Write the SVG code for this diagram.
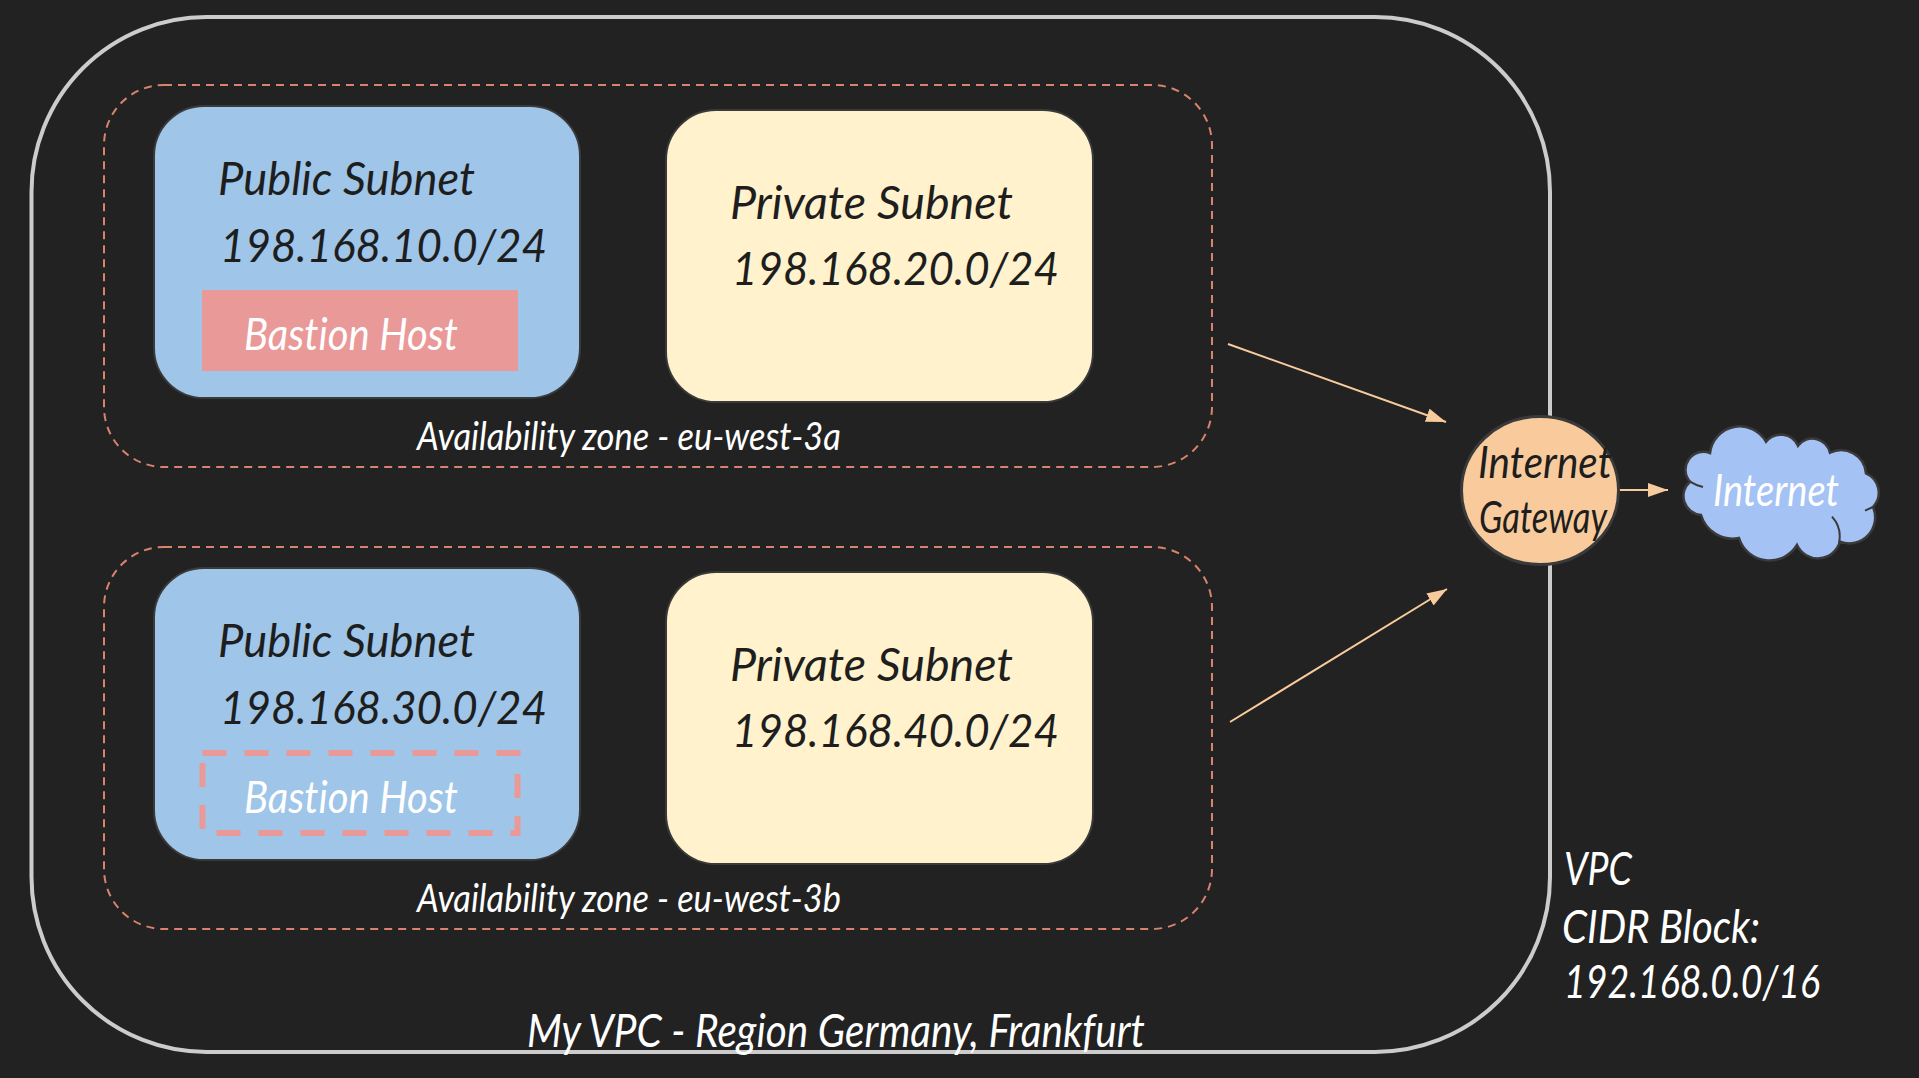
<svg xmlns="http://www.w3.org/2000/svg" width="1919" height="1078" viewBox="0 0 1919 1078">
<style>
text{font-family:"Lato","Noto Sans",sans-serif;font-style:italic;font-weight:400;font-variant-ligatures:none}
.d{fill:#1e1e1e}
.w{fill:#ffffff}
.big{font-size:47px}
.mid{font-size:45px}
.sm{font-size:39px}
.az{fill:none;stroke:#d9826f;stroke-width:2;stroke-dasharray:8 6}
.pub{fill:#9fc5e8;stroke:#3a3a3a;stroke-width:2}
.pri{fill:#fff2cc;stroke:#3a3a3a;stroke-width:2}
.conn{fill:none;stroke:#f8cb9c;stroke-width:2;marker-end:url(#arrow)}
</style>
<defs>
<marker id="arrow" markerUnits="userSpaceOnUse" markerWidth="22" markerHeight="16" refX="20" refY="7" orient="auto">
<path d="M0 0L20 7L0 14z" fill="#f8cb9c"/>
</marker>
</defs>
<rect width="1919" height="1078" fill="#222222"/>
<g id="vpc">
<rect x="31.500" y="17" width="1518.500" height="1035" rx="175" ry="175" fill="none" stroke="#cccccc" stroke-width="4"/>
<text class="w big" x="527" y="1047" textLength="618" lengthAdjust="spacingAndGlyphs">My VPC - Region Germany, Frankfurt</text>
</g>
<g id="az-a">
<rect class="az" x="104" y="85" width="1108" height="382" rx="60" ry="60"/>
<text class="w sm" x="417" y="450" textLength="424" lengthAdjust="spacingAndGlyphs">Availability zone - eu-west-3a</text>
</g>
<g id="az-b">
<rect class="az" x="104" y="547" width="1108" height="382" rx="60" ry="60"/>
<text class="w sm" x="417" y="912" textLength="424" lengthAdjust="spacingAndGlyphs">Availability zone - eu-west-3b</text>
</g>
<g id="public-a">
<rect class="pub" x="154" y="106" width="426" height="292" rx="50" ry="50"/>
<text class="d big" x="218" y="195" textLength="257" lengthAdjust="spacingAndGlyphs">Public Subnet</text>
<text class="d big" x="220" y="262" textLength="327" lengthAdjust="spacingAndGlyphs">198.168.10.0/24</text>
</g>
<g id="bastion-a">
<rect x="202" y="290" width="316" height="81" fill="#ea9999"/>
<text class="w mid" x="244" y="350" textLength="214" lengthAdjust="spacingAndGlyphs">Bastion Host</text>
</g>
<g id="private-a">
<rect class="pri" x="666" y="110" width="427" height="292" rx="50" ry="50"/>
<text class="d big" x="730" y="219" textLength="283" lengthAdjust="spacingAndGlyphs">Private Subnet</text>
<text class="d big" x="732" y="285" textLength="327" lengthAdjust="spacingAndGlyphs">198.168.20.0/24</text>
</g>
<g id="public-b">
<rect class="pub" x="154" y="568" width="426" height="292" rx="50" ry="50"/>
<text class="d big" x="218" y="657" textLength="257" lengthAdjust="spacingAndGlyphs">Public Subnet</text>
<text class="d big" x="220" y="724" textLength="327" lengthAdjust="spacingAndGlyphs">198.168.30.0/24</text>
</g>
<g id="bastion-b">
<rect x="202.500" y="753" width="315" height="80" fill="none" stroke="#ea9999" stroke-width="6" stroke-dasharray="24 18"/>
<text class="w mid" x="244" y="813" textLength="214" lengthAdjust="spacingAndGlyphs">Bastion Host</text>
</g>
<g id="private-b">
<rect class="pri" x="666" y="572" width="427" height="292" rx="50" ry="50"/>
<text class="d big" x="730" y="681" textLength="283" lengthAdjust="spacingAndGlyphs">Private Subnet</text>
<text class="d big" x="732" y="747" textLength="327" lengthAdjust="spacingAndGlyphs">198.168.40.0/24</text>
</g>
<g id="connectors">
<path class="conn" d="M1228 344L1446 422"/>
<path class="conn" d="M1230 722L1447 589"/>
<path class="conn" d="M1619 490L1668 490"/>
</g>
<g id="internet-gateway">
<ellipse cx="1540" cy="490.500" rx="78.500" ry="74" fill="#f9cb9c" stroke="#3a3a3a" stroke-width="3"/>
<text class="d mid" x="1478" y="478" textLength="134" lengthAdjust="spacingAndGlyphs">Internet</text>
<text class="d mid" x="1479" y="533" textLength="128" lengthAdjust="spacingAndGlyphs">Gateway</text>
</g>
<g id="internet">
<path d="M1710 453A30 30 0 0 1 1766 441.700A19 19 0 0 1 1798 445.700A18 18 0 0 1 1830 452.700A25 25 0 0 1 1866 473.300A21 21 0 0 1 1873 507A26 26 0 0 1 1840 541.700A23 23 0 0 1 1797 545A32 32 0 0 1 1739 538A33 33 0 0 1 1701 515A19 19 0 0 1 1690 481.700A18 18 0 0 1 1710 453Z" fill="#a4c2f4" stroke="#3a3a3a" stroke-width="2.500"/>
<path d="M1832 516.700A30 30 0 0 1 1839 543M1865 510.700L1873 507M1690 481.700Q1695 485 1703 487" fill="none" stroke="#3a3a3a" stroke-width="2"/>
<text class="w mid" x="1713" y="506" textLength="126" lengthAdjust="spacingAndGlyphs">Internet</text>
</g>
<g id="vpc-cidr">
<text class="w big" x="1564" y="885" textLength="68" lengthAdjust="spacingAndGlyphs">VPC</text>
<text class="w big" x="1562" y="943" textLength="198" lengthAdjust="spacingAndGlyphs">CIDR Block:</text>
<text class="w big" x="1564" y="998" textLength="256" lengthAdjust="spacingAndGlyphs">192.168.0.0/16</text>
</g>
</svg>
